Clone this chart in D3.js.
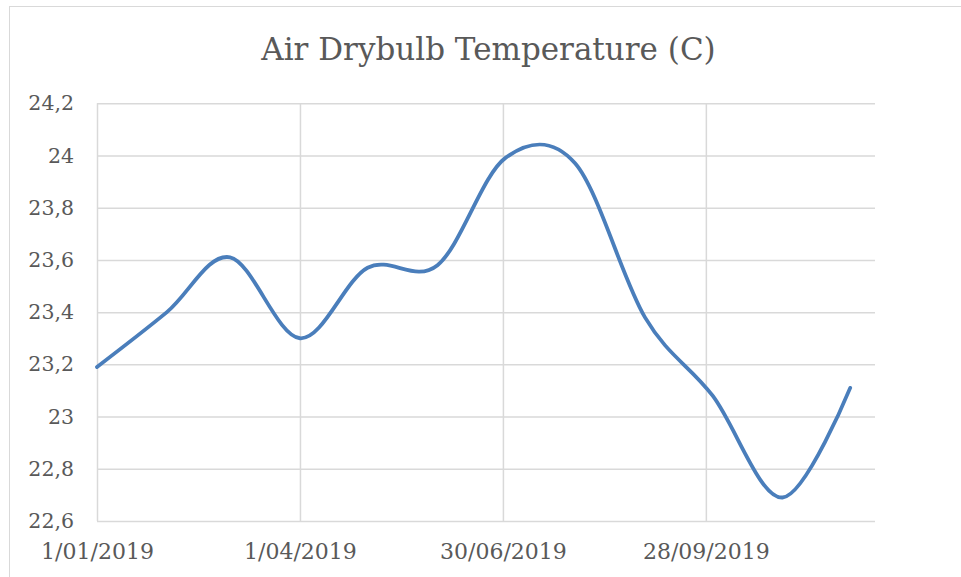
<!DOCTYPE html>
<html>
<head>
<meta charset="utf-8">
<script src="https://cdn.jsdelivr.net/npm/d3@7"></script>
<style>
  html, body { margin: 0; padding: 0; background: #fff; }
  svg { display: block; }
  text { font-family: "DejaVu Serif", "Liberation Serif", serif; fill: #595959; }
</style>
</head>
<body>
<svg id="chart" width="961" height="577"></svg>
<script>
// ---- data ----
const dates = ["2019-01-01","2019-02-01","2019-03-01","2019-04-01","2019-05-01","2019-06-01",
               "2019-07-01","2019-08-01","2019-09-01","2019-10-01","2019-11-01","2019-12-01"];
const temps = [23.19, 23.40, 23.61, 23.30, 23.57, 23.58, 23.99, 23.97, 23.38, 23.08, 22.69, 23.11];
const xTickLabels = ["1/01/2019", "1/04/2019", "30/06/2019", "28/09/2019"];
const yTicks = [22.6, 22.8, 23.0, 23.2, 23.4, 23.6, 23.8, 24.0, 24.2];
const title = "Air Drybulb Temperature (C)";
const xMin = "2019-01-01", xMax = "2019-12-12";

// ---- setup ----
const svg = d3.select("#chart");
const W = 961, H = 577;
const m = { left: 97, right: W - 875, top: 103.3, bottom: H - 521 };
const parse = d3.timeParse("%Y-%m-%d");
const parseTick = d3.timeParse("%d/%m/%Y");
const data = dates.map((d, i) => ({ date: parse(d), value: temps[i] }));

const x = d3.scaleTime().domain([parse(xMin), parse(xMax)]).range([m.left, W - m.right]);
const y = d3.scaleLinear().domain([22.6, 24.2]).range([H - m.bottom, m.top]);

const loc = d3.formatLocale({ decimal: ",", thousands: ".", grouping: [3], currency: ["", ""] });
const yFmt = loc.format(".1~f");
const xTickDates = xTickLabels.map(s => parseTick(s));

// chart border
svg.append("rect").attr("x", 9.5).attr("y", 6.5).attr("width", 980).attr("height", 600)
  .attr("fill", "none").attr("stroke", "#d9d9d9").attr("stroke-width", 1);

// title
svg.append("text").attr("x", 488.5).attr("y", 60).attr("text-anchor", "middle")
  .attr("font-size", 31).text(title);

// horizontal gridlines via y axis
const yAxis = d3.axisLeft(y).tickValues(yTicks).tickFormat(yFmt)
  .tickSize(-(W - m.left - m.right)).tickPadding(23);
const gy = svg.append("g").attr("transform", `translate(${m.left},0)`).call(yAxis);
gy.select(".domain").remove();
gy.selectAll(".tick line").attr("stroke", "#d9d9d9").attr("stroke-width", 1.5);
gy.selectAll(".tick text").attr("font-size", 20.5).attr("fill", "#595959")
  .style("font-family", '"DejaVu Serif", serif');

// vertical gridlines via x axis
const xAxis = d3.axisBottom(x).tickValues(xTickDates).tickFormat((d, i) => xTickLabels[i])
  .tickSize(-(H - m.top - m.bottom)).tickPadding(22);
const gx = svg.append("g").attr("transform", `translate(0,${H - m.bottom})`).call(xAxis);
gx.select(".domain").remove();
gx.selectAll(".tick line").attr("stroke", "#d9d9d9").attr("stroke-width", 1.5);
gx.selectAll(".tick text").attr("font-size", 22).attr("fill", "#595959")
  .style("font-family", '"DejaVu Serif", serif');

// line
const line = d3.line().x(d => x(d.date)).y(d => y(d.value)).curve(d3.curveCardinal.tension(0));
svg.append("path").datum(data).attr("d", line)
  .attr("fill", "none").attr("stroke", "#4a7ebb").attr("stroke-width", 3.8)
  .attr("stroke-linecap", "round").attr("stroke-linejoin", "round");
</script>
</body>
</html>
